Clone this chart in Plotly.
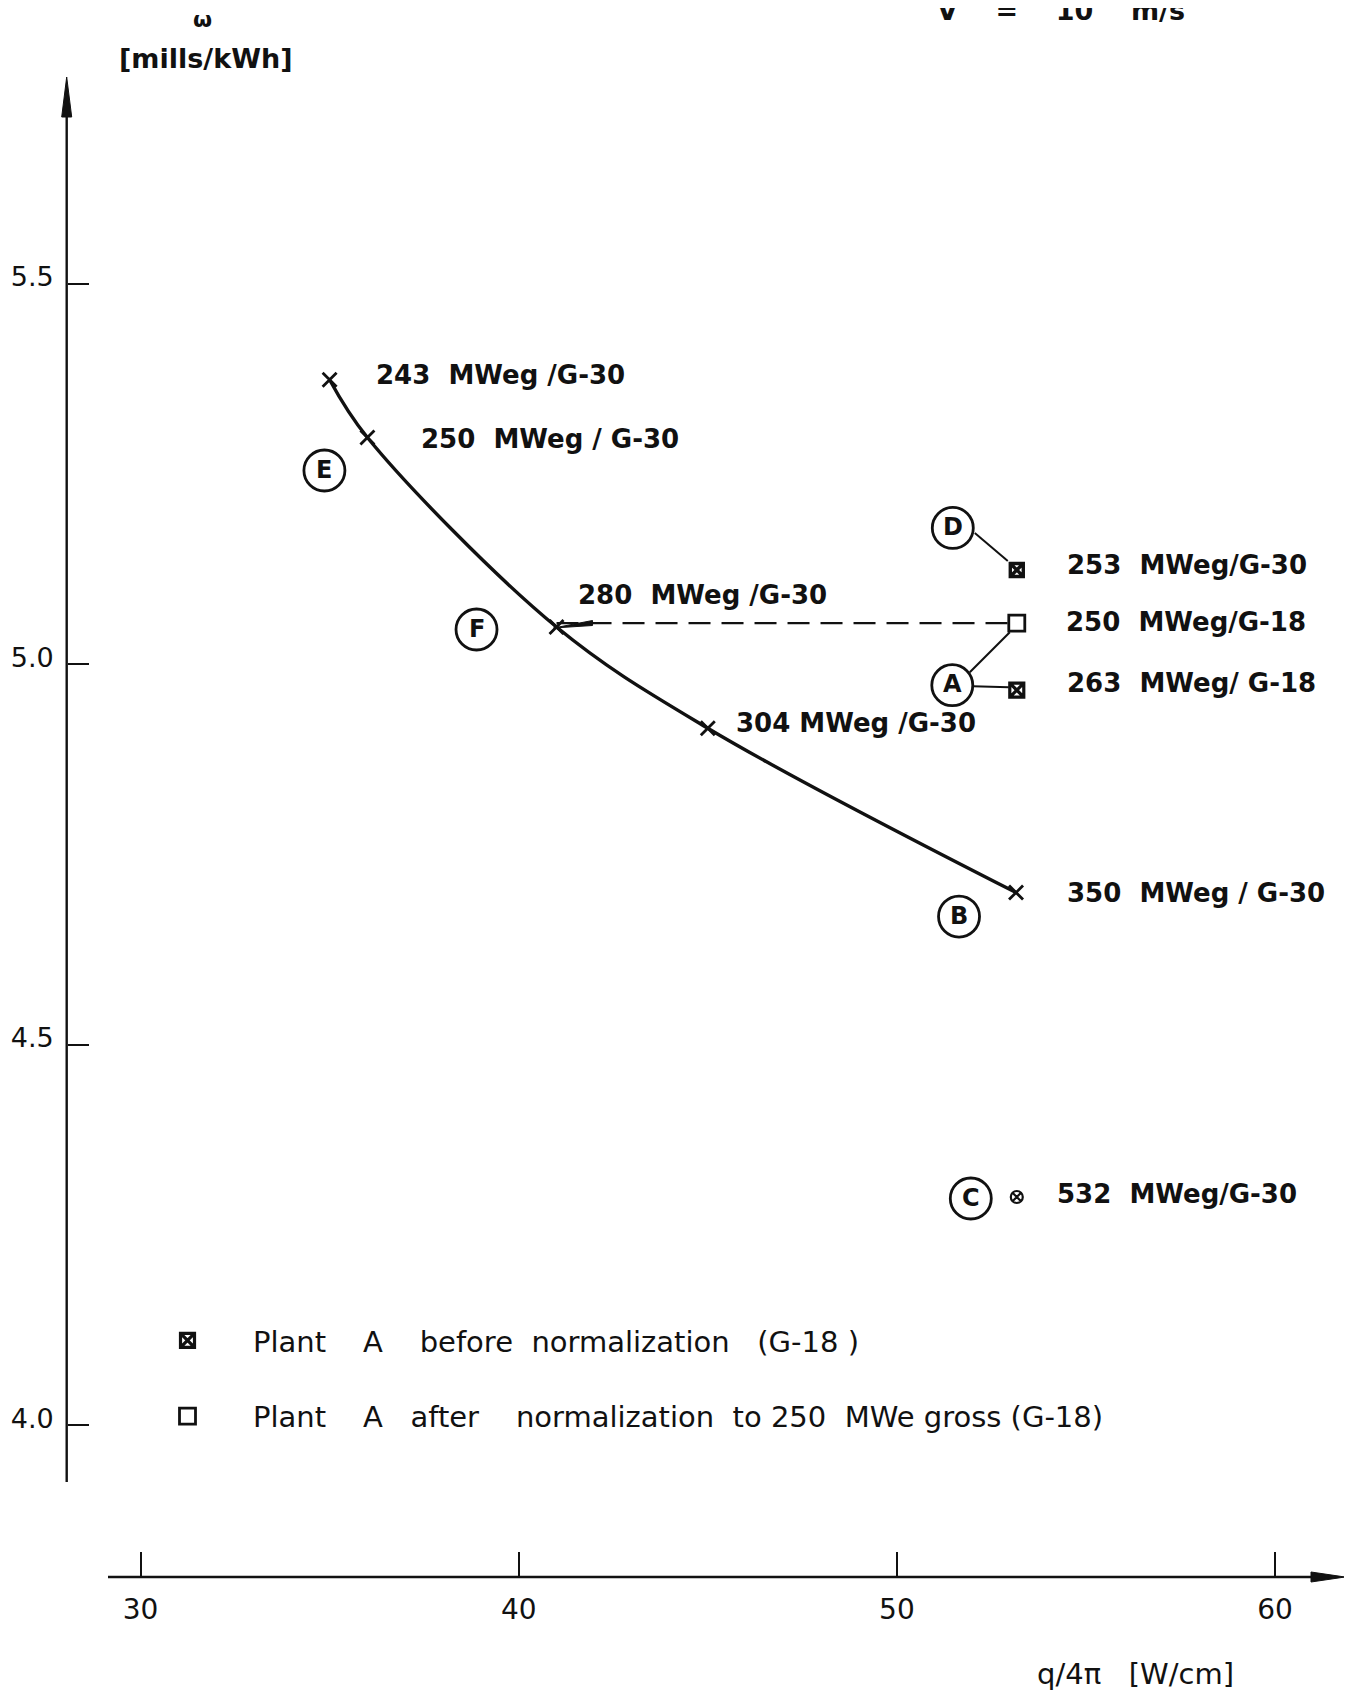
import plotly.graph_objects as go

# ---------------- data ----------------
curve_q = [35.0, 36.0, 41.0, 45.0, 53.15]
curve_w = [5.374, 5.298, 5.049, 4.916, 4.700]
curve_labels = ["243\u00a0 MWeg /G-30", "250\u00a0 MWeg / G-30", "280\u00a0 MWeg /G-30",
                "304 MWeg /G-30", "350\u00a0 MWeg / G-30"]

plantD_q = [53.17]
plantD_w = [5.124]
plantD_labels = ["253\u00a0 MWeg/G-30"]

plantA_before_q = [53.17]
plantA_before_w = [4.966]
plantA_before_labels = ["263\u00a0 MWeg/ G-18"]

plantA_after_q = [53.17]
plantA_after_w = [5.054]
plantA_after_labels = ["250\u00a0 MWeg/G-18"]

plantC_q = [53.17]
plantC_w = [4.300]
plantC_labels = ["532\u00a0 MWeg/G-30"]

x_tickvals = [30, 40, 50, 60]
x_ticktext = ["30", "40", "50", "60"]
y_tickvals = [4.0, 4.5, 5.0, 5.5]
y_ticktext = ["4.0", "4.5", "5.0", "5.5"]

legend_before = ("Plant\u00a0\u00a0\u00a0\u00a0A\u00a0\u00a0\u00a0\u00a0before\u00a0\u00a0normalization"
                 "\u00a0\u00a0\u00a0(G-18\u00a0)")
legend_after = ("Plant\u00a0\u00a0\u00a0\u00a0A\u00a0\u00a0\u00a0after\u00a0\u00a0\u00a0\u00a0normalization"
                "\u00a0\u00a0to\u00a0250\u00a0\u00a0MWe\u00a0gross\u00a0(G-18)")

# ---------------- layout geometry (page pixels; page has an 8px body margin) ----------------
OFF = 8
PAGE_W, PAGE_H = 1352, 1696
W, H = PAGE_W - OFF, PAGE_H - OFF
PL, PR, PT, PB = 20, 1352, 40, 1650          # plot area in page pixels
ML, MR, MT, MB = PL - OFF, PAGE_W - PR, PT - OFF, PAGE_H - PB
X_REF_PX, X_REF_VAL, X_PPU = 140.5, 30.0, 37.82
Y_REF_PX, Y_REF_VAL, Y_PPU = 664.3, 5.0, 761.0


def px2x(px):
    return X_REF_VAL + (px - X_REF_PX) / X_PPU


def py2y(py):
    return Y_REF_VAL - (py - Y_REF_PX) / Y_PPU


def pap_x(px):
    return (px - PL) / (PR - PL)


def pap_y(py):
    return (PB - py) / (PB - PT)


xr = [px2x(PL), px2x(PR)]
yr = [py2y(PB), py2y(PT)]
y_axis_q = px2x(66.7)
x_axis_w = py2y(1577)

FONT = "DejaVu Sans"
BOLD = "DejaVu Sans"
BLACK = "#111111"

fig = go.Figure()

# dashed normalisation line (280 MWeg point -> normalised plant A)
fig.add_trace(go.Scatter(
    x=[curve_q[2], plantA_after_q[0]], y=[plantA_after_w[0], plantA_after_w[0]],
    mode="lines", line=dict(color=BLACK, width=2.2, dash="22px,11px"),
    showlegend=False, hoverinfo="skip"))

# main curve
fig.add_trace(go.Scatter(
    x=curve_q, y=curve_w, mode="lines+markers",
    line=dict(color=BLACK, width=3.4, shape="spline", smoothing=1.0),
    marker=dict(symbol="x-thin", size=14, color=BLACK, line=dict(color=BLACK, width=2.8)),
    showlegend=False, hoverinfo="skip"))

# plant D
fig.add_trace(go.Scatter(
    x=plantD_q, y=plantD_w, mode="markers",
    marker=dict(symbol="square-x-open", size=13, color=BLACK, line=dict(color=BLACK, width=3.4)),
    showlegend=False, hoverinfo="skip"))

# plant A before normalization
fig.add_trace(go.Scatter(
    x=plantA_before_q, y=plantA_before_w, mode="markers", name=legend_before,
    legendgroup="g1",
    marker=dict(symbol="square-x-open", size=14, color=BLACK, line=dict(color=BLACK, width=3.2))))

# plant A after normalization
fig.add_trace(go.Scatter(
    x=plantA_after_q, y=plantA_after_w, mode="markers", name=legend_after,
    legendgroup="g2",
    marker=dict(symbol="square", size=16, color="white", line=dict(color=BLACK, width=2.8))))

# plant C
fig.add_trace(go.Scatter(
    x=plantC_q, y=plantC_w, mode="markers",
    marker=dict(symbol="circle-x-open", size=12, color=BLACK, line=dict(color=BLACK, width=2.2)),
    showlegend=False, hoverinfo="skip"))

shapes = []
annotations = []


def label(xv, yv, text, dx, dy, size=26):
    annotations.append(dict(x=xv, y=yv, xref="x", yref="y", text="<b>%s</b>" % text,
                            showarrow=False,
                            xanchor="left", yanchor="middle", xshift=dx, yshift=dy,
                            font=dict(family=BOLD, size=size, color=BLACK)))


# point labels (pixel offsets from their points)
curve_offsets = [(44, 5), (52, -1), (19, 32), (26, 5), (49, 0)]
for q, w, t, (dx, dy) in zip(curve_q, curve_w, curve_labels, curve_offsets):
    label(q, w, t, dx, dy)
label(plantD_q[0], plantD_w[0], plantD_labels[0], 48, 5)
label(plantA_after_q[0], plantA_after_w[0], plantA_after_labels[0], 47, 1)
label(plantA_before_q[0], plantA_before_w[0], plantA_before_labels[0], 48, 7)
label(plantC_q[0], plantC_w[0], plantC_labels[0], 38, 3)


def circled(xv, yv, letter, dx, dy, r=20.5):
    shapes.append(dict(type="circle", xref="x", yref="y", xsizemode="pixel", ysizemode="pixel",
                       xanchor=xv, yanchor=yv, x0=dx - r, x1=dx + r, y0=dy - r, y1=dy + r,
                       line=dict(color=BLACK, width=2.8)))
    annotations.append(dict(x=xv, y=yv, xref="x", yref="y", text="<b>%s</b>" % letter,
                            showarrow=False,
                            xanchor="center", yanchor="middle", xshift=dx, yshift=dy + 1,
                            font=dict(family=BOLD, size=24, color=BLACK)))


def pline(xv, yv, x0, y0, x1, y1, width=2.0):
    shapes.append(dict(type="line", xref="x", yref="y", xsizemode="pixel", ysizemode="pixel",
                       xanchor=xv, yanchor=yv, x0=x0, y0=y0, x1=x1, y1=y1,
                       line=dict(color=BLACK, width=width)))


def ppath(xv, yv, path):
    shapes.append(dict(type="path", xref="x", yref="y", xsizemode="pixel", ysizemode="pixel",
                       xanchor=xv, yanchor=yv, path=path, fillcolor=BLACK,
                       line=dict(color=BLACK, width=1)))


circled(curve_q[1], curve_w[1], "E", -43, -33)
circled(curve_q[2], curve_w[2], "F", -80, -2.5)
circled(curve_q[4], curve_w[4], "B", -57, -24)
circled(plantD_q[0], plantD_w[0], "D", -64, 42)
circled(plantA_before_q[0], plantA_before_w[0], "A", -64.5, 5)
circled(plantC_q[0], plantC_w[0], "C", -46, -1.5)

# connectors
pline(plantD_q[0], plantD_w[0], -42, 37, -9, 9)
pline(plantA_before_q[0], plantA_before_w[0], -47, 18, -7, 58)
pline(plantA_before_q[0], plantA_before_w[0], -44, 4, -8, 3)

# wedge at the 280 MWeg point
ppath(curve_q[2], curve_w[2], "M-3,-1 L36,6.5 L36,1.5 Z")

# drawn axis lines with arrowheads
shapes.append(dict(type="line", xref="x", yref="y", x0=y_axis_q, x1=y_axis_q,
                   y0=py2y(1482), y1=py2y(105), line=dict(color=BLACK, width=2.4)))
ppath(y_axis_q, py2y(77), "M0,0 L-5,-40 L5,-40 Z")
shapes.append(dict(type="line", xref="x", yref="y", x0=px2x(108), x1=px2x(1320),
                   y0=x_axis_w, y1=x_axis_w, line=dict(color=BLACK, width=2.6)))
ppath(px2x(1345), x_axis_w, "M0,0 L-34,-5 L-34,5 Z")

# scan page edge on the right
shapes.append(dict(type="line", xref="paper", yref="paper", x0=pap_x(1346.5), x1=pap_x(1346.5),
                   y0=pap_y(OFF), y1=pap_y(1545), line=dict(color="#333333", width=3)))

# axis titles and header
annotations.append(dict(x=pap_x(202), y=pap_y(19), xref="paper", yref="paper", text="<b>ω</b>",
                        showarrow=False, xanchor="center", yanchor="middle",
                        font=dict(family=BOLD, size=22, color=BLACK)))
annotations.append(dict(x=pap_x(206), y=pap_y(58), xref="paper", yref="paper",
                        text="<b>[mills/kWh]</b>", showarrow=False, xanchor="center",
                        yanchor="middle", font=dict(family=BOLD, size=27, color=BLACK)))
annotations.append(dict(x=pap_x(1135), y=pap_y(1674), xref="paper", yref="paper",
                        text="q/4π\u00a0\u00a0\u00a0[W/cm]", showarrow=False, xanchor="center",
                        yanchor="middle", font=dict(family=FONT, size=29, color=BLACK)))
annotations.append(dict(x=pap_x(935), y=pap_y(28), xref="paper", yref="paper",
                        text="<b>V\u00a0\u00a0\u00a0\u00a0=\u00a0\u00a0\u00a0\u00a010\u00a0\u00a0\u00a0\u00a0m/s</b>",
                        showarrow=False, xanchor="left", yanchor="bottom",
                        font=dict(family=BOLD, size=27, color=BLACK)))

fig.update_layout(
    width=W, height=H,
    margin=dict(l=ML, r=MR, t=MT, b=MB, autoexpand=False),
    paper_bgcolor="white", plot_bgcolor="white",
    font=dict(family=FONT, color=BLACK),
    shapes=shapes, annotations=annotations,
    showlegend=True,
    legend=dict(x=pap_x(122), y=pap_y(1315), xanchor="left", yanchor="top",
                bgcolor="rgba(0,0,0,0)", borderwidth=0, itemwidth=121,
                traceorder="grouped", tracegroupgap=35,
                font=dict(family=FONT, size=29, color=BLACK)),
    xaxis=dict(range=xr, anchor="free", position=(x_axis_w - yr[0]) / (yr[1] - yr[0]),
               automargin=False,
               showgrid=False, zeroline=False, showline=False,
               tickmode="array", tickvals=x_tickvals, ticktext=x_ticktext,
               ticks="inside", ticklen=25, tickwidth=2, tickcolor=BLACK,
               ticklabelstandoff=13,
               tickfont=dict(family=FONT, size=28, color=BLACK)),
    yaxis=dict(range=yr, anchor="free", position=(y_axis_q - xr[0]) / (xr[1] - xr[0]),
               automargin=False,
               showgrid=False, zeroline=False, showline=False,
               tickmode="array", tickvals=y_tickvals, ticktext=y_ticktext,
               ticks="inside", ticklen=21, tickwidth=2, tickcolor=BLACK,
               ticklabelshift=-7, ticklabelstandoff=13,
               tickfont=dict(family=FONT, size=27, color=BLACK)),
)

fig.write_html("out.html")
